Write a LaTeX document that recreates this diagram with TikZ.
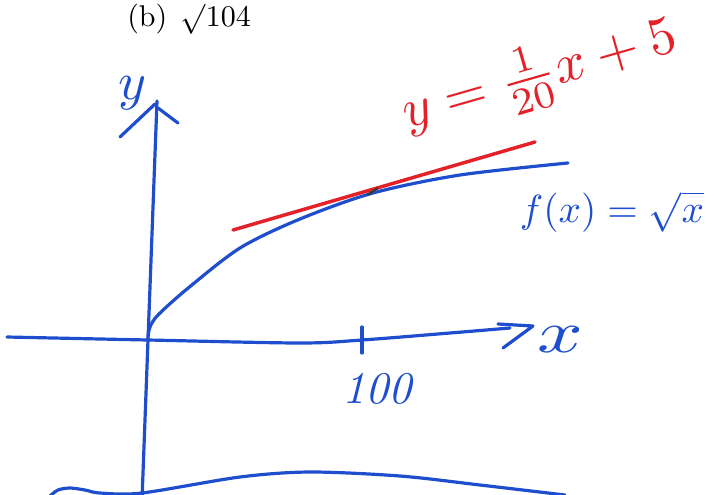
\documentclass[tikz,border=0pt]{standalone}
\usepackage{amsmath}
\definecolor{blueink}{RGB}{30,78,205}
\definecolor{redink}{RGB}{228,32,40}
\definecolor{markink}{RGB}{50,60,60}
\begin{document}
\begin{tikzpicture}[x=0.75pt,y=-0.75pt,
  ink/.style={blueink,line width=2.4pt,line cap=round,line join=round},
  redstroke/.style={redink,line width=2.6pt,line cap=round},
  handtext/.style={inner sep=0pt}]
\path[use as bounding box] (0,0) rectangle (719,494);
\clip (0,0) rectangle (719,494);
% title
\node[handtext,anchor=base west] (title) at (127,26.5) {\scalebox{2.25}{(b)\hspace{0.45em}$\surd$104}};
% y axis
\draw[ink] (142,500) -- (148,340) -- (157,101);
\draw[ink] (120,137) -- (155,104);
\draw[ink] (158,108) -- (178,123);
% x axis
\draw[ink] plot[smooth] coordinates {(7,337) (148,340) (300,343) (362,340) (450,333) (510,328)};
\draw[ink] (498,324) -- (533,326) -- (503,348);
% tick
\draw[ink] (362,327) -- (362,353);
% sqrt curve
\draw[ink] plot[smooth] coordinates {(148,337) (150,327) (158,315) (187,289) (240,248) (300,219) (373,193) (460,175) (568,163)};
% tangent line
\draw[redstroke] (233,230) -- (535,142);
\draw[markink,line width=1.6pt] (367,195) -- (378,188);
% bottom curve
\draw[ink] plot[smooth] coordinates {(50,496) (58,490) (70,488) (85,490) (100,493) (142,493) (240,477) (310,472) (400,476) (480,485) (565,495)};
% labels
\node[handtext,blueink] (ylab) at (133,93) {\scalebox{4}{$y$}};
\node[handtext,blueink] (xlab) at (560,340) {\scalebox{6}[4.5]{$x$}};
\node[handtext,blueink] (hundred) at (377,389) {\scalebox{3.4}{\itshape 100}};
\node[handtext,blueink] (flab) at (612,212) {\scalebox{2.95}{$f(x)=\sqrt{x}$}};
\node[handtext,redink,rotate=16] (eq) at (540,76) {\scalebox{4.1}{$y=\tfrac{1}{20}x+5$}};
\end{tikzpicture}
\end{document}
